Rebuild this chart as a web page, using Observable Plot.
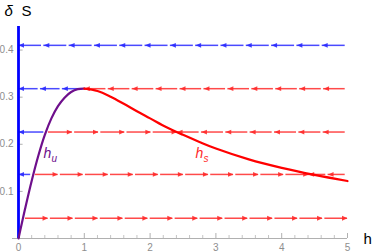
<!DOCTYPE html>
<html>
<head>
<meta charset="utf-8">
<script src="https://cdn.jsdelivr.net/npm/d3@7"></script>
<script src="https://cdn.jsdelivr.net/npm/@observablehq/plot@0.6"></script>
<style>
  html, body { margin: 0; padding: 0; background: #fff; }
  #chart svg { display: block; }
</style>
</head>
<body>
<div id="chart"></div>
<script>
// ---- data ----
const xTicks = [0, 1, 2, 3, 4, 5];
const xTickLabels = ["0", "1", "2", "3", "4", "5"];
const xMinorTicks = [0.2,0.4,0.6,0.8,1.2,1.4,1.6,1.8,2.2,2.4,2.6,2.8,3.2,3.4,3.6,3.8,4.2,4.4,4.6,4.8];
const yTicks = [0.1, 0.2, 0.3, 0.4];
const yTickLabels = ["0.1", "0.2", "0.3", "0.4"];

// unstable branch h_u (purple)
const huH = [0, 0.05, 0.1, 0.2, 0.3, 0.4, 0.5, 0.6, 0.7, 0.8, 0.9, 1.0];
const huS = [0, 0.032, 0.063, 0.122, 0.175, 0.220, 0.255, 0.281, 0.299, 0.311, 0.317, 0.318];
// stable branch h_s (red)
const hsH = [1.0, 1.2, 1.4, 1.6, 1.8, 2.0, 2.25, 2.5, 2.75, 3.0, 3.5, 4.0, 4.5, 5.0];
const hsS = [0.318, 0.313, 0.301, 0.286, 0.270, 0.255, 0.236, 0.220, 0.205, 0.191, 0.168, 0.150, 0.135, 0.122];

// flow pieces: level, origin h, destination h, colour class
const pieceLevel = [0.41, 0.318, 0.318, 0.226, 0.226, 0.226, 0.136, 0.136, 0.136, 0.043];
const pieceFrom  = [5,    1,     5,     0.42,  0.42,  5,     0.22,  0.22,  5,     0.07];
const pieceTo    = [0,    0,     1,     0,     2.41,  2.41,  0,     4.41,  4.41,  5];
const pieceKind  = ["blue","blue","red","blue","red","red","blue","red","red","red"];

const labelText = ["h", "h"];
const labelSub  = ["u", "s"];
const labelKind = ["purple", "red"];
const labelH = [0.38, 2.69];
const labelS = [0.170, 0.170];

// ---- build tables ----
const hu = huH.map((h, i) => ({h, s: huS[i]}));
const hs = hsH.map((h, i) => ({h, s: hsS[i]}));

const period = 0.38, gap = 0.035;
const dashes = [];
pieceLevel.forEach((lvl, i) => {
  const a = pieceFrom[i], b = pieceTo[i];
  const L = Math.abs(b - a);
  if (L < 0.12) return;
  const dir = Math.sign(b - a);
  const n = Math.max(1, Math.round(L / period));
  const p = L / n;
  for (let k = 0; k < n; k++) {
    dashes.push({
      y: lvl,
      x1: a + dir * (k * p + gap),
      x2: a + dir * (k + 1) * p,
      dir,
      kind: pieceKind[i]
    });
  }
});

const colors = {red: "#ff2a2a", blue: "#2a2aff", purple: "#6e0f8c"};

const triRight = {draw(ctx) { ctx.moveTo(0, 0); ctx.lineTo(-5.5, -2.4); ctx.lineTo(-5.5, 2.4); ctx.closePath(); }};
const triLeft  = {draw(ctx) { ctx.moveTo(0, 0); ctx.lineTo(5.5, -2.4); ctx.lineTo(5.5, 2.4); ctx.closePath(); }};

const labels = labelText.map((t, i) => ({t, sub: labelSub[i], h: labelH[i], s: labelS[i], kind: labelKind[i]}));

const gray = "#8e8e8e";
const font = "Liberation Sans, Arial, sans-serif";

const chart = Plot.plot({
  width: 374,
  height: 252,
  marginLeft: 18,
  marginRight: 27,
  marginTop: 26,
  marginBottom: 14,
  x: {domain: [0, 5], axis: null},
  y: {domain: [0, 0.45], axis: null},
  style: {fontFamily: font, background: "#fff", overflow: "visible"},
  marks: [
    // x axis line and ticks
    Plot.ruleY([0], {stroke: "#b0b0b0", strokeWidth: 1, insetLeft: -6}),
    Plot.ruleX(xTicks, {x: d => d, y1: 0, y2: 0.0106, stroke: "#b0b0b0"}),
    Plot.ruleX(xMinorTicks, {x: d => d, y1: 0, y2: 0.0064, stroke: "#c4c4c4"}),
    Plot.text(xTicks, {x: d => d, y: 0, text: (d, i) => xTickLabels[i], dy: 9, fill: gray, fontSize: 10}),
    // y ticks and labels
    Plot.ruleY(yTicks, {y: d => d, x1: 0, x2: 0.07, stroke: "#b0b0b0"}),
    Plot.text(yTicks, {x: 0, y: d => d, text: (d, i) => yTickLabels[i], dx: -5, textAnchor: "end", fill: gray, fontSize: 10}),
    // flow dashes
    Plot.ruleY(dashes, {y: "y", x1: "x1", x2: "x2", stroke: d => colors[d.kind], strokeWidth: 1.5, strokeOpacity: 0.85}),
    Plot.dot(dashes.filter(d => d.dir > 0), {x: "x2", y: "y", symbol: triRight, fill: d => colors[d.kind], stroke: "none", fillOpacity: 0.9}),
    Plot.dot(dashes.filter(d => d.dir < 0), {x: "x2", y: "y", symbol: triLeft, fill: d => colors[d.kind], stroke: "none", fillOpacity: 0.9}),
    // vertical blue axis (h = 0)
    Plot.ruleX([0], {y1: 0, y2: 0.45, stroke: "#0000ff", strokeWidth: 2.8}),
    // branches
    Plot.line(hu, {x: "h", y: "s", stroke: colors.purple, strokeWidth: 2.2, curve: "catmull-rom"}),
    Plot.line(hs, {x: "h", y: "s", stroke: "#ff0000", strokeWidth: 2.2, curve: "catmull-rom"}),
    // branch labels
    Plot.text(labels, {x: "h", y: "s", text: "t", textAnchor: "start", lineAnchor: "bottom", fill: d => colors[d.kind], fontSize: 14, fontStyle: "italic"}),
    Plot.text(labels, {x: "h", y: "s", text: "sub", textAnchor: "start", lineAnchor: "bottom", dx: 8, dy: 4, fill: d => colors[d.kind], fontSize: 10, fontStyle: "italic"}),
    // axis titles
    Plot.text(["δ"], {frameAnchor: "top-left", text: d => d, textAnchor: "start", lineAnchor: "bottom", dx: -14, dy: -11, fontSize: 15, fontStyle: "italic", fill: "#000"}),
    Plot.text(["S"], {frameAnchor: "top-left", text: d => d, textAnchor: "start", lineAnchor: "bottom", dx: 3, dy: -11, fontSize: 15, fill: "#000"}),
    Plot.text(["h"], {frameAnchor: "bottom-right", text: d => d, textAnchor: "start", lineAnchor: "bottom", dx: 16, dy: 5, fontSize: 15, fill: "#000"})
  ]
});
document.getElementById("chart").appendChild(chart);
</script>
</body>
</html>
